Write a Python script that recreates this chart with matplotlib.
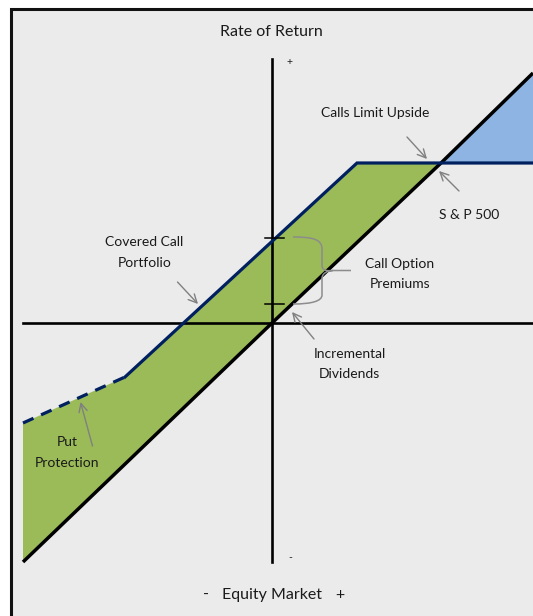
import numpy as np
import matplotlib
matplotlib.use("Agg")
import matplotlib.pyplot as plt
from matplotlib.patches import Rectangle, PathPatch
from matplotlib.path import Path

plt.rcParams['font.family'] = ['Lato', 'DejaVu Sans']

# === DATA (units: equity market move vs. rate of return, origin at 0,0) ===
sp_x = [-249, 0, 169, 261]          # S & P 500
sp_y = [-239, 0, 160, 250]
cc_x = [-249, -147, 85, 261]        # covered call portfolio
cc_y = [-100, -54, 160, 160]
premium_ticks = [19, 85]            # call option premium span on return axis

# colors
green = "#9BBB59"
blue_fill = "#8DB4E2"
navy = "#002060"
grey = "#808080"

fig = plt.figure(figsize=(5.33, 6.16), dpi=100)
ax = fig.add_axes([0, 0, 1, 1])
ax.set_xlim(-272, 261)
ax.set_ylim(-293, 323)
ax.axis("off")

# slide-style frame
ax.add_patch(Rectangle((-261.5, -400), 600, 714.5, facecolor="#EBEBEB",
                       edgecolor="#111111", linewidth=2.2, zorder=0))

# 1) shaded areas
green_poly = list(zip(cc_x[:3], cc_y[:3])) + [(sp_x[2], sp_y[2])] + \
    list(zip(sp_x[:2], sp_y[:2]))[::-1]
ax.fill(*zip(*green_poly), color=green, lw=0, zorder=1)
blue_poly = [(sp_x[2], sp_y[2]), (sp_x[3], sp_y[3]), (cc_x[3], cc_y[3])]
ax.fill(*zip(*blue_poly), color=blue_fill, lw=0, zorder=1)

# 2) axes
ax.plot([-249, 261], [0, 0], color="black", lw=1.9, zorder=2)
ax.plot([0, 0], [264, -239], color="black", lw=1.9, zorder=2)
for t in premium_ticks:
    ax.plot([-7, 12], [t, t], color="black", lw=1.1, zorder=4)

# 3) lines
ax.plot(sp_x, sp_y, color="black", lw=2.5, solid_capstyle="butt", zorder=3)
ax.plot(cc_x[:2], cc_y[:2], color=navy, lw=2.3, dashes=(3.6, 2.6),
        dash_capstyle="butt", zorder=3)
ax.plot(cc_x[1:], cc_y[1:], color=navy, lw=2.3, solid_joinstyle="miter",
        zorder=3)

# 4) brace for call option premiums
verts = [(21, 86), (40, 86), (50, 84), (50, 74),
         (50, 58),
         (50, 52), (55, 52), (61, 52.5),
         (79, 52.5), (61, 52.5),
         (55, 52), (50, 50), (50, 44),
         (50, 28),
         (50, 22), (40, 19), (21, 19)]
codes = [Path.MOVETO, Path.CURVE4, Path.CURVE4, Path.CURVE4,
         Path.LINETO,
         Path.CURVE4, Path.CURVE4, Path.CURVE4,
         Path.LINETO, Path.MOVETO,
         Path.CURVE4, Path.CURVE4, Path.CURVE4,
         Path.LINETO,
         Path.CURVE4, Path.CURVE4, Path.CURVE4]
ax.add_patch(PathPatch(Path(verts, codes), fill=False, edgecolor="#8C8C8C",
                       lw=1.1, zorder=4))

# 5) labels
txt = dict(ha="center", va="center", color="#1A1A1A", zorder=5)
ax.text(-1, 291, "Rate of Return", fontsize=11.5, **txt)
ax.text(17, 260, "+", fontsize=7.5, **txt)
ax.text(18, -235, "-", fontsize=7.5, **txt)
ax.text(-65.5, -272, "-", fontsize=11.5, **txt)
ax.text(0, -272, "Equity Market", fontsize=11.5, **txt)
ax.text(68, -272, "+", fontsize=11.5, **txt)

two = dict(fontsize=10, linespacing=1.85, **txt)
ax.text(103.5, 210, "Calls Limit Upside", fontsize=10, **txt)
ax.text(197, 108, "S & P 500", fontsize=10, **txt)
ax.text(-127.5, 70.5, "Covered Call\nPortfolio", **two)
ax.text(128, 49, "Call Option\nPremiums", **two)
ax.text(77.5, -41, "Incremental\nDividends", **two)
ax.text(-204.5, -129.5, "Put\nProtection", **two)

# 6) pointer arrows
arrow = dict(arrowstyle="->,head_length=0.6,head_width=0.3", color=grey,
             lw=1.0, shrinkA=0, shrinkB=0)
for (x0, y0), (x1, y1) in [((135, 186), (155, 164)),
                           ((187, 132), (167, 152)),
                           ((-94.5, 41), (-74, 19)),
                           ((42, -16), (20, 11)),
                           ((-179.5, -123), (-191.5, -79))]:
    ax.annotate("", xy=(x1, y1), xytext=(x0, y0), arrowprops=arrow, zorder=5)

fig.savefig("out.png", dpi=100)
